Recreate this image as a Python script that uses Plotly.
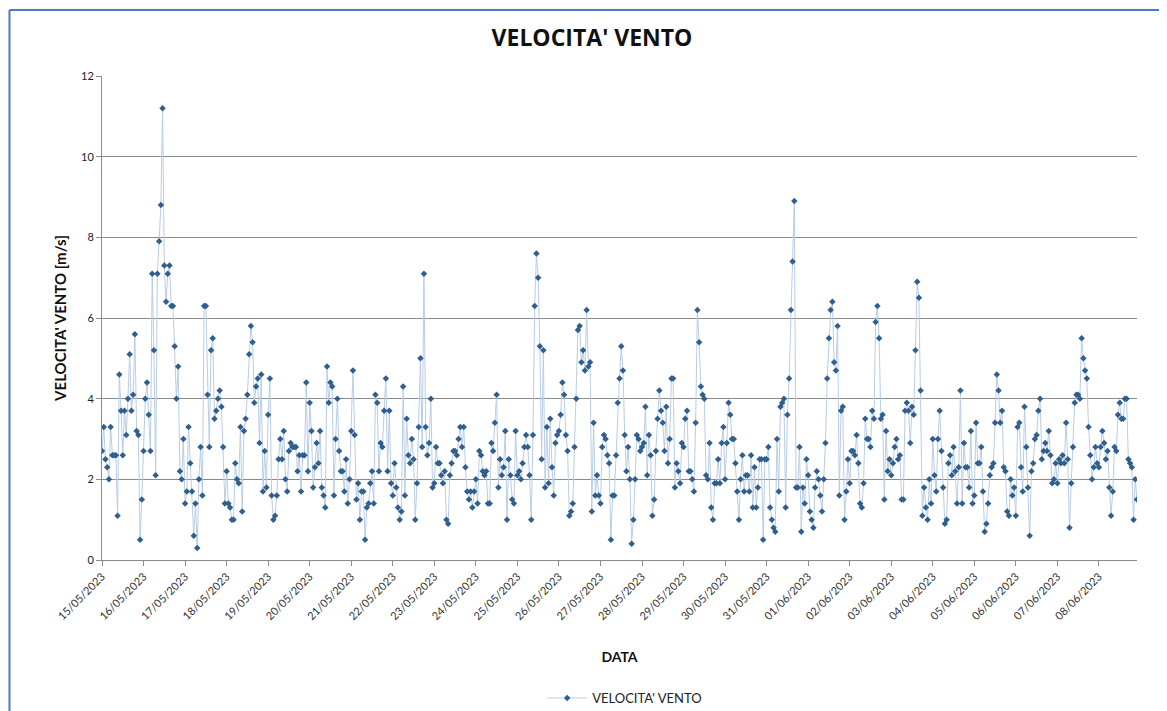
import pandas as pd
import plotly.graph_objects as go

# hourly wind speed [m/s], split in chunks of ~5 days
START = "2023-05-15 00:00"
TITLE = "VELOCITA' VENTO"

wind_part1 = [
    2.7, 3.3, 2.5, 2.3, 2.0, 3.3, 2.6, 2.6, 2.6, 1.1, 4.6, 3.7, 2.6, 3.7, 3.1, 4.0,
    5.1, 3.7, 4.1, 5.6, 3.2, 3.1, 0.5, 1.5, 2.7, 4.0, 4.4, 3.6, 2.7, 7.1, 5.2, 2.1,
    7.1, 7.9, 8.8, 11.2, 7.3, 6.4, 7.1, 7.3, 6.3, 6.3, 5.3, 4.0, 4.8, 2.2, 2.0, 3.0,
    1.4, 1.7, 3.3, 2.4, 1.7, 0.6, 1.4, 0.3, 2.0, 2.8, 1.6, 6.3, 6.3, 4.1, 2.8, 5.2,
    5.5, 3.5, 3.7, 4.0, 4.2, 3.8, 2.8, 1.4, 2.2, 1.4, 1.3, 1.0, 1.0, 2.4, 2.0, 1.9,
    3.3, 1.2, 3.2, 3.5, 4.1, 5.1, 5.8, 5.4, 3.9, 4.3, 4.5, 2.9, 4.6, 1.7, 2.7, 1.8,
    3.6, 4.5, 1.6, 1.0, 1.1, 1.6, 2.5, 3.0, 2.5, 3.2, 2.0, 1.7, 2.7, 2.9, 2.8, 2.8,
    2.8, 2.2, 2.6, 1.7, 2.6, 2.6, 4.4, 2.2, 3.9, 3.2,
]
wind_part2 = [
    1.8, 2.3, 2.9, 2.4, 3.2, 1.8, 1.6, 1.3, 4.8, 3.9,
    4.4, 4.3, 1.6, 3.0, 4.0, 2.7, 2.2, 2.2, 1.7,
    2.5, 1.4, 2.0, 3.2, 4.7, 3.1, 1.5, 1.9, 1.0,
    1.7, 1.7, 0.5, 1.3, 1.4, 1.9, 2.2, 1.4, 4.1, 3.9,
    2.2, 2.9, 2.8, 3.7, 4.5, 2.2, 3.7, 1.9, 1.6, 2.4,
    1.8, 1.3, 1.0, 1.2, 4.3, 1.6, 3.5, 2.6, 2.4,
    3.0, 2.5, 1.0, 1.9, 3.3, 5.0, 2.8, 7.1, 3.3, 2.6,
    2.9, 4.0, 1.8, 1.9, 2.8, 2.4, 2.4, 2.1, 1.9, 2.2,
    1.0, 0.9, 2.1, 2.4, 2.7, 2.7, 2.6, 3.0, 3.3,
    2.8, 3.3, 2.3, 1.7, 1.5, 1.7, 1.3, 1.7, 2.0, 1.4,
    2.7, 2.6, 2.2, 2.1, 2.2, 1.4, 1.4, 2.9, 2.7,
    3.4, 4.1, 1.8, 2.5, 2.1, 2.3, 3.2, 1.0, 2.5, 2.1,
    1.5, 1.4, 3.2, 2.1, 2.2, 2.0, 2.4, 2.8, 3.1, 2.8,
    2.1, 1.0, 3.1, 6.3, 7.6, 7.0, 5.3, 2.5, 5.2, 1.8, 3.3,
    1.9,
]
wind_part3 = [
    3.5, 2.3, 1.6, 2.9, 3.1, 3.2, 3.6, 4.4, 4.1, 3.1,
    2.7, 1.1, 1.2, 1.4, 2.8, 4.0, 5.7, 5.8, 4.9, 5.2,
    4.7, 6.2, 4.8, 4.9, 1.2, 3.4, 1.6, 2.1, 1.6,
    1.4, 2.8, 3.1, 3.0, 2.6, 2.4, 0.5, 1.6, 1.6, 2.6,
    3.9, 4.5, 5.3, 4.7, 3.1, 2.2, 2.8, 2.0, 0.4, 1.0,
    2.0, 3.1, 3.0, 2.7, 2.8, 2.9, 3.8, 2.1, 3.1, 2.6,
    1.1, 1.5, 2.7, 3.5, 4.2, 3.7, 3.4, 2.7, 3.8, 2.4,
    3.0, 4.5, 4.5, 1.8, 2.4, 2.2, 1.9, 2.9, 2.8, 3.5,
    3.7, 2.2, 2.2, 2.0, 1.7, 3.4, 6.2, 5.4, 4.3,
    4.1, 4.0, 2.1, 2.0, 2.9, 1.3, 1.0, 1.9, 1.9, 2.5,
    1.9, 2.9, 3.3, 2.0, 2.9, 3.9, 3.6, 3.0, 3.0, 2.4,
    1.7, 1.0, 2.0, 2.6, 1.7, 2.1, 2.1, 1.7, 2.6, 1.3,
    2.3, 1.3, 1.8, 2.5, 2.5, 0.5, 2.5, 2.5, 2.8,
    1.3, 1.0, 0.8, 0.7, 3.0, 1.7, 3.8, 3.9, 4.0, 1.3,
    3.6, 4.5,
]
wind_part4 = [
    6.2, 7.4, 8.9, 1.8, 1.8, 2.8, 0.7, 1.8, 1.4, 2.5,
    2.1, 1.2, 1.0, 0.8, 1.8, 2.2, 2.0, 1.6, 1.2, 2.0,
    2.9, 4.5, 5.5, 6.2, 6.4, 4.9, 4.7, 5.8, 1.6, 3.7,
    3.8, 1.0, 1.7, 2.5, 1.9, 2.7, 2.7, 2.6, 3.1, 2.4,
    1.4, 1.3, 1.9, 3.5, 3.0, 3.0, 2.8, 3.7, 3.5, 5.9,
    6.3, 5.5, 3.5, 3.6, 1.5, 3.2, 2.2, 2.5, 2.1, 2.4,
    2.8, 3.0, 2.5, 2.6, 1.5, 1.5, 3.7, 3.9, 3.7, 2.9,
    3.8, 3.6, 5.2, 6.9, 6.5, 4.2, 1.1, 1.8, 1.3, 1.0,
    2.0, 1.4, 3.0, 2.1, 1.7, 3.0, 3.7, 2.7, 1.8, 0.9,
    1.0, 2.4, 2.6, 2.1, 2.8, 2.2, 1.4, 2.3, 4.2, 1.4,
    2.9, 2.3, 2.3, 1.8, 3.2, 1.4, 1.6, 3.4, 2.4, 2.4,
    2.8, 1.7, 0.7, 0.9, 1.4, 2.1, 2.3, 2.4, 3.4, 4.6,
    4.2, 3.4, 3.7, 2.3, 2.2, 1.2, 1.1, 2.0, 1.6, 1.8,
    1.1, 3.3, 3.4, 2.3, 1.7, 3.8, 2.8, 1.8, 0.6,
]
wind_part5 = [
    2.2, 2.4, 3.0, 3.1, 3.7, 4.0, 2.5, 2.7, 2.9, 2.7,
    3.2, 2.6, 1.9, 2.0, 2.4, 1.9, 2.5, 2.4, 2.6, 2.4,
    3.4, 2.5, 0.8, 1.9, 2.8, 3.9, 4.1, 4.1, 4.0, 5.5,
    5.0, 4.7, 4.5, 3.3, 2.6, 2.0, 2.3, 2.8, 2.4, 2.3,
    2.8, 3.2, 2.9, 2.5, 2.7, 1.8, 1.1, 1.7, 2.8, 2.7,
    3.6, 3.9, 3.5, 3.5, 4.0, 4.0, 2.5, 2.4, 2.3, 1.0,
    2.0, 1.5,
]

wind = wind_part1 + wind_part2 + wind_part3 + wind_part4 + wind_part5
times = pd.date_range(START, periods=len(wind), freq="h")

FONT = "Lato, 'Noto Sans', sans-serif"
GRID = "#8a8a8a"
BORDER = "#4a7ac9"

fig = go.Figure()
fig.add_trace(go.Scatter(
    x=times, y=wind, name=TITLE, mode="lines+markers",
    line=dict(color="#b9cde5", width=1),
    marker=dict(color="#2f5f8f", size=5, symbol="diamond"),
))

# page has an 8px body margin, so the figure is a bit smaller than the window
fig.update_layout(
    width=1159, height=703,
    margin=dict(l=94, r=30, t=68, b=151),
    paper_bgcolor="white", plot_bgcolor="white",
    font=dict(family=FONT, color="#333333"),
    title=dict(text="<b>" + TITLE + "</b>", x=0.4734, xref="paper", xanchor="center",
               y=0.9573, yref="container", yanchor="middle",
               font=dict(size=23, color="#111111",
                         family="'Liberation Sans Narrow', 'Open Sans', sans-serif")),
    showlegend=True,
    legend=dict(orientation="h", x=0.505, xanchor="center",
                y=0.0185, yref="container", yanchor="middle",
                font=dict(size=13, color="#222222"), itemwidth=40),
    shapes=[
        dict(type="line", xref="paper", yref="paper", x0=-0.0894, x1=1.03, y0=1.1364, y1=1.1364,
             line=dict(color=BORDER, width=2)),
        dict(type="line", xref="paper", yref="paper", x0=-0.0894, x1=-0.0894, y0=1.1364, y1=-0.32,
             line=dict(color=BORDER, width=2)),
    ],
)

fig.update_xaxes(
    range=[times[0], times[-1]], automargin=False,
    dtick=86400000, tick0=START, tickformat="%d/%m/%Y", tickangle=-45,
    showgrid=False, showline=True, linecolor=GRID, linewidth=1,
    ticks="outside", ticklen=5, tickcolor=GRID,
    tickfont=dict(size=11, color="#333333"),
    title=dict(text="<b>DATA</b>", font=dict(size=14, color="#111111"), standoff=31),
)
fig.update_yaxes(
    range=[0, 12], dtick=2, automargin=False,
    showgrid=True, gridcolor=GRID, gridwidth=1,
    showline=True, linecolor=GRID, linewidth=1,
    ticks="outside", ticklen=5, tickcolor=GRID,
    tickfont=dict(size=11, color="#222222"),
    title=dict(text="<b>VELOCITA' VENTO [m/s]</b>", font=dict(size=15, color="#111111"), standoff=10),
    zeroline=False,
)

fig.write_html("out.html")
